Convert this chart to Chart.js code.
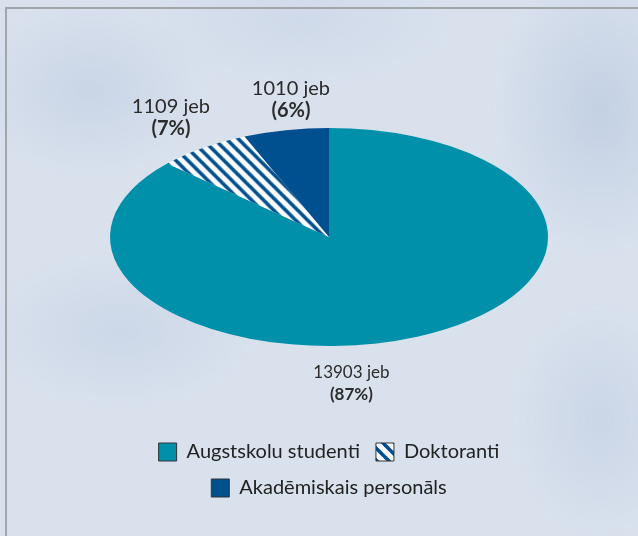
<!DOCTYPE html>
<html>
<head>
<meta charset="utf-8">
<script src="https://cdn.jsdelivr.net/npm/chart.js@4.4.0/dist/chart.umd.min.js"></script>
<style>
  html, body { margin: 0; padding: 0; }
  body {
    width: 638px; height: 536px; overflow: hidden;
    background:
      radial-gradient(ellipse 120px 90px at 90px 90px, rgba(182,198,222,0.45), rgba(182,198,222,0) 100%),
      radial-gradient(ellipse 110px 150px at 600px 110px, rgba(174,192,218,0.5), rgba(174,192,218,0) 100%),
      radial-gradient(ellipse 140px 80px at 120px 330px, rgba(184,200,224,0.4), rgba(184,200,224,0) 100%),
      radial-gradient(ellipse 90px 120px at 600px 420px, rgba(180,196,222,0.4), rgba(180,196,222,0) 100%),
      radial-gradient(ellipse 160px 70px at 300px 20px, rgba(192,206,228,0.4), rgba(192,206,228,0) 100%),
      #d9e1ed;
  }
  .frame {
    position: absolute; left: 5px; top: 7px; right: -10px; bottom: -10px;
    border-left: 2px solid #a2a6ab; border-top: 2px solid #a2a6ab;
  }
  #wrap { position: absolute; left: 0; top: 0; width: 638px; height: 536px; }
</style>
</head>
<body>
<div class="frame"></div>
<div id="wrap"><canvas id="chart" width="638" height="536"></canvas></div>
<script>
const categories = ['Augstskolu studenti', 'Doktoranti', 'Akadēmiskais personāls'];
const counts = [13903, 1109, 1010];
const percents = [87, 7, 6];

// label block shift from the slice edge, and font size per label
const labelShift = [[-66, 36], [-32, -41], [5, -42]];
const labelSize = [17, 20, 20];

const RX = 219, RY = 109;
const teal = '#0090aa';
const navy = '#004f8f';

function stripePattern(ctx) {
  const p = 12;
  const c = document.createElement('canvas');
  c.width = p; c.height = p;
  const g = c.getContext('2d');
  g.fillStyle = '#ffffff';
  g.fillRect(0, 0, p, p);
  g.strokeStyle = navy;
  g.lineWidth = 3.6;
  for (let k = -1; k <= 1; k++) {
    g.beginPath();
    g.moveTo(k * p - 2, -2);
    g.lineTo(k * p + p + 2, p + 2);
    g.stroke();
  }
  return ctx.createPattern(c, 'repeat');
}

const canvas = document.getElementById('chart');
const ctx = canvas.getContext('2d');
const stripes = stripePattern(ctx);

const ellipsePlugin = {
  id: 'ellipse',
  beforeDatasetsDraw(chart) {
    const arc = chart.getDatasetMeta(0).data[0];
    const r = arc.outerRadius;
    const sx = RX / r, sy = RY / r;
    const c = chart.ctx;
    c.save();
    c.translate(arc.x, arc.y);
    c.scale(sx, sy);
    c.translate(-arc.x, -arc.y);
    if (stripes.setTransform) stripes.setTransform(new DOMMatrix().scale(1 / sx, 1 / sy));
  },
  afterDatasetsDraw(chart) {
    chart.ctx.restore();
    if (stripes.setTransform) stripes.setTransform(new DOMMatrix());
  },
  afterDraw(chart) {
    const c = chart.ctx;
    const arcs = chart.getDatasetMeta(0).data;
    c.save();
    c.fillStyle = '#2b2b2b';
    c.textAlign = 'center';
    c.textBaseline = 'middle';
    arcs.forEach((arc, i) => {
      const a = (arc.startAngle + arc.endAngle) / 2;
      const ex = arc.x + RX * Math.cos(a) + labelShift[i][0];
      const ey = arc.y + RY * Math.sin(a) + labelShift[i][1];
      c.font = 'normal ' + labelSize[i] + 'px Lato';
      c.fillText(counts[i] + ' jeb', ex, ey);
      c.font = 'bold ' + labelSize[i] + 'px Lato';
      c.fillText('(' + percents[i] + '%)', ex, ey + 22);
    });
    c.restore();
  }
};

new Chart(canvas, {
  type: 'pie',
  data: {
    labels: categories,
    datasets: [{
      data: counts,
      backgroundColor: [teal, stripes, navy],
      borderWidth: 0
    }]
  },
  options: {
    responsive: false,
    animation: false,
    events: [],
    layout: { padding: { left: 70, right: 50, top: 48, bottom: 28 } },
    plugins: {
      tooltip: { enabled: false },
      legend: {
        position: 'bottom',
        labels: {
          color: '#222222',
          font: { family: 'Lato', size: 20 },
          boxWidth: 18,
          boxHeight: 18,
          padding: 16,
          generateLabels(chart) {
            const items = Chart.overrides.pie.plugins.legend.labels.generateLabels(chart);
            items.forEach(it => { it.strokeStyle = '#333333'; it.lineWidth = 1; });
            return items;
          }
        }
      }
    }
  },
  plugins: [ellipsePlugin]
});
</script>
</body>
</html>
